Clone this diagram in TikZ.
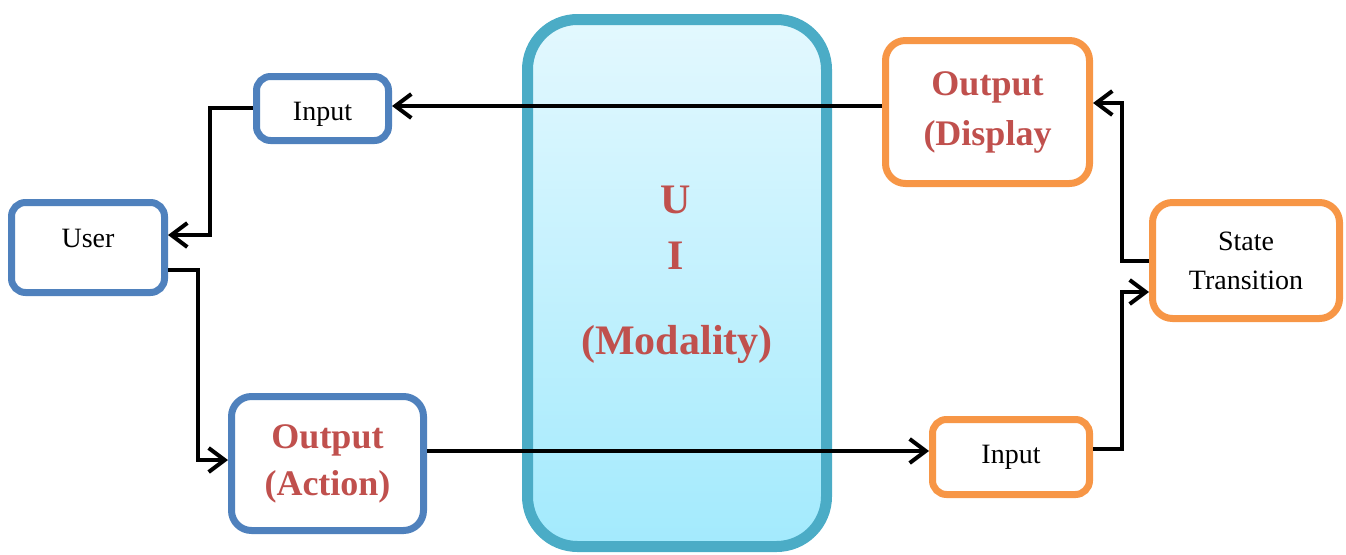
\documentclass[tikz,border=0pt]{standalone}
\usepackage{fontspec}
\setmainfont{Liberation Serif}
\usetikzlibrary{arrows.meta,shadows}
\definecolor{bblue}{HTML}{4F81BD}
\definecolor{borange}{HTML}{F79646}
\definecolor{tred}{HTML}{C0504D}
\definecolor{uiborder}{HTML}{4BACC6}
\definecolor{uitop}{HTML}{E3F8FE}
\definecolor{uibot}{HTML}{A3EAFD}
\tikzset{
  box/.style={draw, line width=7pt, fill=white, rounded corners=14pt, inner sep=0pt, align=center},
  bluebox/.style={box, draw=bblue},
  orangebox/.style={box, draw=borange},
  plain/.style={font=\fontsize{28}{39}\selectfont},
  redtxt/.style={font=\fontsize{36}{48}\selectfont\bfseries, text=tred},
  uitxt/.style={font=\fontsize{42}{50}\selectfont\bfseries, text=tred, anchor=base, inner sep=0pt},
  arr/.style={line width=4pt, -{Straight Barb[length=16pt,width=24pt]}},
}
\begin{document}
\begin{tikzpicture}[x=1pt,y=-1pt]
\useasboundingbox (0,0) rectangle (1346,554);
% UI box
\node[draw=uiborder, line width=11pt, rounded corners=50pt, top color=uitop, bottom color=uibot,
      minimum width=299pt, minimum height=527pt, inner sep=0pt,
      drop shadow={opacity=0.25, shadow xshift=2pt, shadow yshift=-3pt}] (ui) at (677,283) {};
\node[uitxt] (u1) at (676,213) {U};
\node[uitxt] (u2) at (676,269) {I};
\node[uitxt] (u3) at (677,354) {(Modality)};
% boxes
\node[bluebox, plain, minimum width=153pt, minimum height=90pt, text height=19pt, text depth=20pt] (user) at (88,247.5) {User};
\node[bluebox, plain, minimum width=132pt, minimum height=64pt, text height=27pt, text depth=4pt] (itl) at (322.5,108.5) {Input};
\node[bluebox, redtxt, rounded corners=20pt, minimum width=192pt, minimum height=134pt,
      font=\fontsize{36}{47}\selectfont\bfseries] (oact) at (327.5,463.5) {Output\\(Action)};
\node[orangebox, redtxt, rounded corners=20pt, minimum width=204pt, minimum height=143pt,
      font=\fontsize{36}{50}\selectfont\bfseries] (odisp) at (987.5,112) {Output\\(Display};
\node[orangebox, plain, rounded corners=20pt, minimum width=187pt, minimum height=116pt] (state) at (1246,260.5) {State\\Transition};
\node[orangebox, plain, minimum width=157pt, minimum height=75pt] (ibr) at (1011,457) {Input};
% connectors
\coordinate (c1) at ([yshift=6pt]odisp.west);
\draw[arr] (c1) -- (c1 -| itl.east);
\draw[arr] ([yshift=1pt]itl.west) -- ++(-43,0) |- ([yshift=12.5pt]user.east);
\draw[arr] ([yshift=-22.5pt]user.east) -- ++(30,0) |- ([yshift=3.5pt]oact.west);
\coordinate (c4) at ([yshift=12.5pt]oact.east);
\draw[arr] (c4) -- (c4 -| ibr.west);
\draw[arr] ([yshift=8pt]ibr.east) -- ++(29,0) |- ([yshift=-31.5pt]state.west);
\draw[arr] ([yshift=-0.5pt]state.west) -- ++(-27,0) |- ([yshift=9pt]odisp.east);
\end{tikzpicture}
\end{document}
